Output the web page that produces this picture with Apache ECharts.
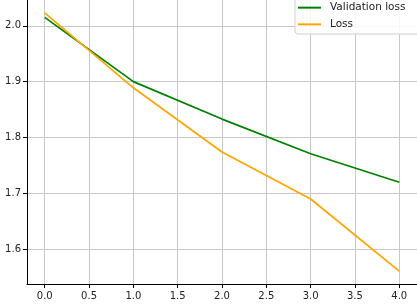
<!DOCTYPE html>
<html>
<head>
<meta charset="utf-8">
<script src="https://cdn.jsdelivr.net/npm/echarts@6/dist/echarts.min.js"></script>
<style>
html,body{margin:0;padding:0;background:#fff;}
#c{width:417px;height:305px;}
</style>
</head>
<body>
<div id="c"></div>
<script>
const epochs = [0, 1, 2, 3, 4];
const validationLoss = [2.015, 1.900, 1.833, 1.771, 1.720];
const loss = [2.023, 1.889, 1.774, 1.690, 1.561];
const xTicks = [0, 0.5, 1, 1.5, 2, 2.5, 3, 3.5, 4];
const yTicks = [1.6, 1.7, 1.8, 1.9, 2.0];

const chart = echarts.init(document.getElementById('c'), null, {renderer: 'canvas'});
const font = 'DejaVu Sans';
chart.setOption({
  animation: false,
  backgroundColor: '#fff',
  grid: {left: 27, right: -0.8, top: -7.4, bottom: 21, containLabel: false},
  legend: {
    orient: 'vertical',
    left: 295, top: -2,
    padding: [4, 16, 4, 3],
    itemWidth: 23, itemHeight: 2, itemGap: 5.4,
    icon: 'rect',
    backgroundColor: 'rgba(255,255,255,0.85)',
    borderColor: '#d0d0d0', borderWidth: 1, borderRadius: 3,
    textStyle: {fontFamily: font, fontSize: 10.5, color: '#222', padding: [0, 0, 0, 4], lineHeight: 11.3},
    data: ['Validation loss', 'Loss']
  },
  xAxis: {
    type: 'value', min: -0.2, max: 4.2,
    axisLine: {show: true, onZero: false, lineStyle: {color: '#000', width: 1}},
    axisTick: {show: true, length: 4, customValues: xTicks, lineStyle: {color: '#000'}},
    axisLabel: {customValues: xTicks, margin: 7, fontFamily: font, fontSize: 10, color: '#222',
      formatter: v => v.toFixed(1)},
    splitLine: {show: true, lineStyle: {color: '#c8c8c8', width: 1}}
  },
  yAxis: {
    type: 'value', min: 1.5379, max: 2.0461,
    axisLine: {show: true, onZero: false, lineStyle: {color: '#000', width: 1}},
    axisTick: {show: true, length: 4, customValues: yTicks, lineStyle: {color: '#000'}},
    axisLabel: {customValues: yTicks, margin: 6, fontFamily: font, fontSize: 10, color: '#222',
      formatter: v => v.toFixed(1)},
    splitLine: {show: true, lineStyle: {color: '#c8c8c8', width: 1}}
  },
  series: [
    {name: 'Validation loss', type: 'line', symbol: 'none', data: epochs.map((e, i) => [e, validationLoss[i]]),
      lineStyle: {color: '#008000', width: 1.7}, itemStyle: {color: '#008000'}},
    {name: 'Loss', type: 'line', symbol: 'none', data: epochs.map((e, i) => [e, loss[i]]),
      lineStyle: {color: '#FFA500', width: 1.7}, itemStyle: {color: '#FFA500'}}
  ]
});
</script>
</body>
</html>
